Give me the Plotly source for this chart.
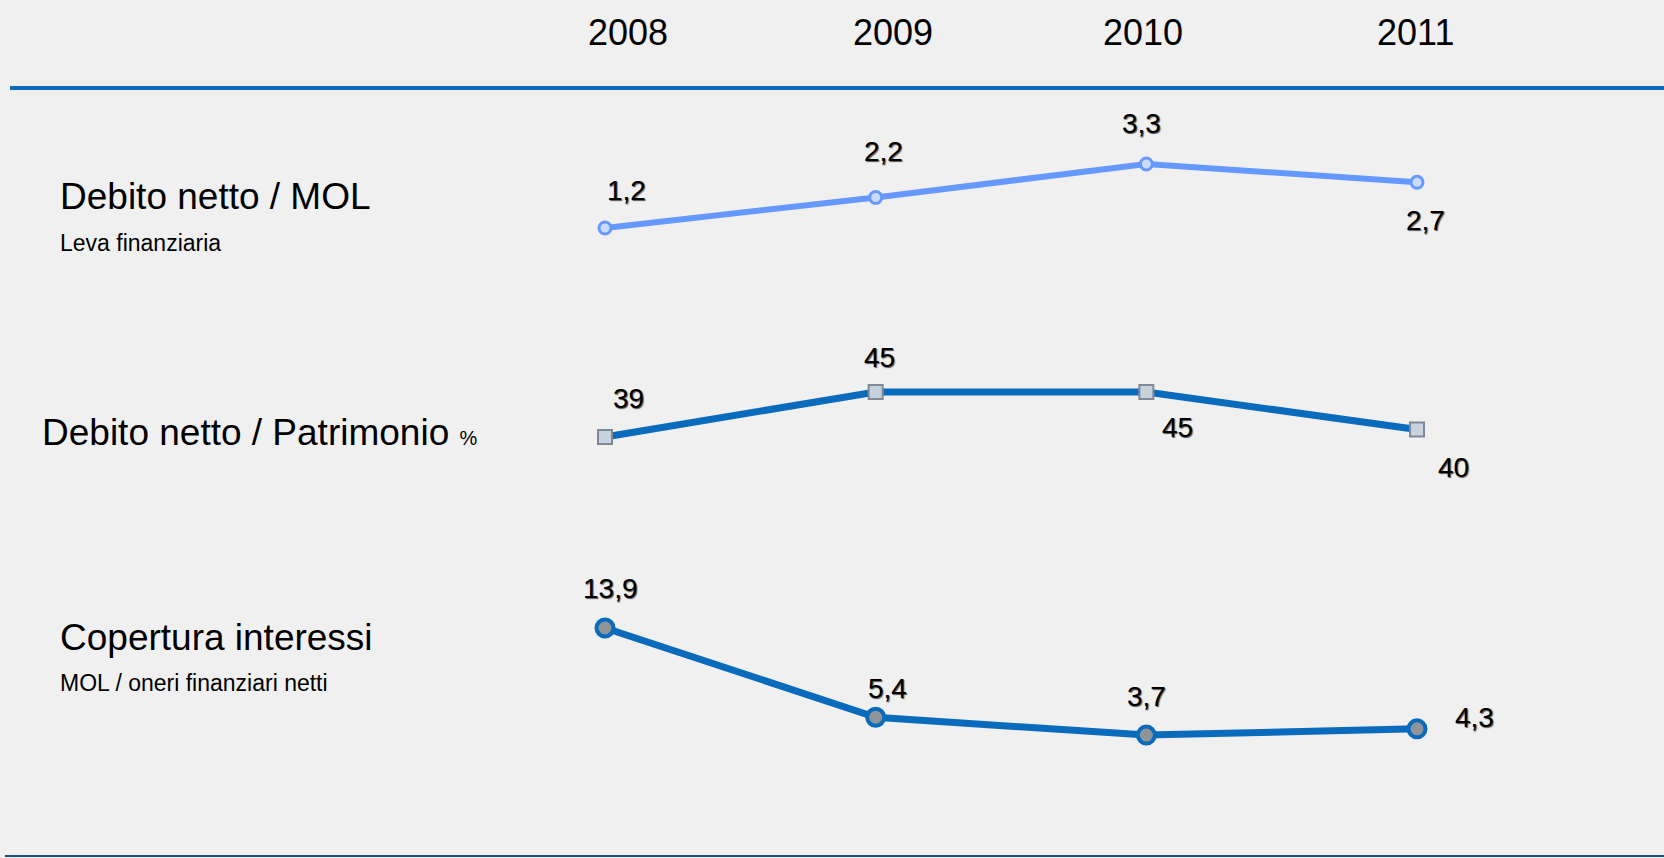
import plotly.graph_objects as go

years = [2008, 2009, 2010, 2011]
year_labels = ["2008", "2009", "2010", "2011"]
leva = [1.2, 2.2, 3.3, 2.7]
leva_labels = ["1,2", "2,2", "3,3", "2,7"]
patrimonio = [39, 45, 45, 40]
patrimonio_labels = ["39", "45", "45", "40"]
copertura = [13.9, 5.4, 3.7, 4.3]
copertura_labels = ["13,9", "5,4", "3,7", "4,3"]

W, H = 1664, 858
BG = "#f0f0f0"
DARK = "#0a6abb"
LIGHT = "#6699ff"
FONT = "Liberation Sans, Arial, sans-serif"

# label offsets (pixels) per point: style only
leva_off = [(21, 38), (8, 46), (-5, 40), (8, -38)]
patr_off = [(23, 39), (4, 35), (31, -35), (36, -38)]
cop_off = [(5, 40), (12, 29), (0, 39), (57, 11)]
year_xshift = [23, 17, -3, -2]

fig = go.Figure()

fig.add_trace(go.Scatter(
    x=years, y=leva, mode="lines+markers", yaxis="y",
    line=dict(color=LIGHT, width=6),
    marker=dict(symbol="circle", size=12, color="#c9dcff", line=dict(color=LIGHT, width=3)),
    hoverinfo="skip", showlegend=False))
fig.add_trace(go.Scatter(
    x=years, y=patrimonio, mode="lines+markers", yaxis="y2",
    line=dict(color=DARK, width=7),
    marker=dict(symbol="square", size=14, color="#c6d2de", line=dict(color="#7f8a96", width=2)),
    hoverinfo="skip", showlegend=False))
fig.add_trace(go.Scatter(
    x=years, y=copertura, mode="lines+markers", yaxis="y3",
    line=dict(color=DARK, width=7),
    marker=dict(symbol="circle", size=17, color="#8f9499", line=dict(color=DARK, width=4)),
    hoverinfo="skip", showlegend=False))

annotations = []
label_font = dict(family=FONT, size=28, color="#000000", shadow="1px 1px 1px #555")
for series, labels, offs, yref in [
    (leva, leva_labels, leva_off, "y"),
    (patrimonio, patrimonio_labels, patr_off, "y2"),
    (copertura, copertura_labels, cop_off, "y3"),
]:
    for xv, yv, t, (dx, dy) in zip(years, series, labels, offs):
        annotations.append(dict(x=xv, y=yv, xref="x", yref=yref, text=t,
                                showarrow=False, xshift=dx, yshift=dy,
                                font=label_font))

for xv, t, dx in zip(years, year_labels, year_xshift):
    annotations.append(dict(x=xv, y=1 - 33 / H, xref="x", yref="paper", text=t,
                            showarrow=False, xshift=dx, yanchor="middle",
                            font=dict(family=FONT, size=36, color="#000000")))

def left_text(txt, px, py, size):
    annotations.append(dict(x=px / W, y=1 - py / H, xref="paper", yref="paper",
                            text=txt, showarrow=False, xanchor="left", yanchor="middle",
                            font=dict(family=FONT, size=size, color="#000000")))

left_text("Debito netto / MOL", 58, 196, 37)
left_text("Leva finanziaria", 58, 243, 23)
left_text("Debito netto / Patrimonio <span style='font-size:20px'>%</span>", 40, 433, 37)
left_text("Copertura interessi", 58, 637, 37)
left_text("MOL / oneri finanziari netti", 58, 683, 23)

shapes = [
    dict(type="line", xref="paper", yref="paper", x0=10 / W, x1=1, y0=1 - 88 / H, y1=1 - 88 / H,
         line=dict(color=DARK, width=4)),
    dict(type="line", xref="paper", yref="paper", x0=5 / W, x1=1, y0=1 - 856 / H, y1=1 - 856 / H,
         line=dict(color="#1f4e79", width=2)),
]

# pixel-calibrated axis ranges
x0_px, dx_px = 605, 270.67
fig.update_layout(
    width=W, height=H,
    margin=dict(l=0, r=0, t=0, b=0),
    paper_bgcolor=BG, plot_bgcolor=BG,
    xaxis=dict(range=[2008 - x0_px / dx_px, 2008 + (W - x0_px) / dx_px],
               visible=False, fixedrange=True),
    yaxis=dict(range=[1.2 - (H - 228) / 30.5, 1.2 + 228 / 30.5], visible=False),
    yaxis2=dict(range=[45 - (H - 392) / 7.5, 45 + 392 / 7.5], visible=False,
                overlaying="y"),
    yaxis3=dict(range=[13.9 - (H - 628) / 10.5, 13.9 + 628 / 10.5], visible=False,
                overlaying="y"),
    annotations=annotations,
    shapes=shapes,
)

fig.write_html("out.html",
               post_script="document.body.style.margin='0';document.body.style.overflow='hidden';",
               config={"displayModeBar": False})
